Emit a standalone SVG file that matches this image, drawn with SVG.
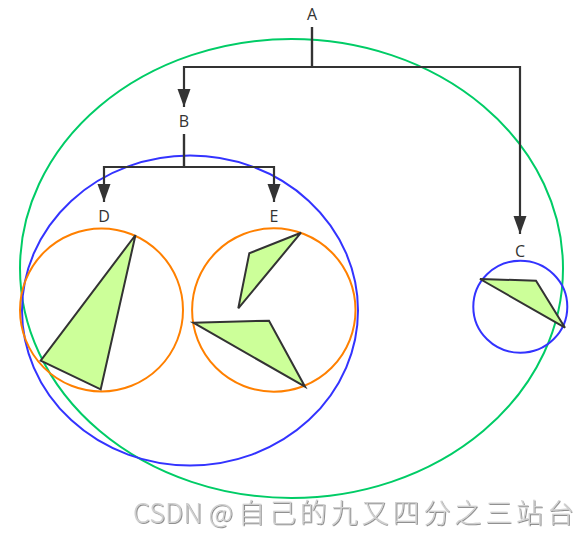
<svg xmlns="http://www.w3.org/2000/svg" width="585" height="535" viewBox="0 0 585 535">
<style>
.lbl{font-family:"Open Sans","Noto Sans",sans-serif;font-size:16px;fill:#333;text-anchor:middle}
.tri{fill:#ccff99;stroke:#333;stroke-width:2;stroke-linejoin:miter}
.edge{fill:none;stroke:#333;stroke-width:2.2}
.wm{font-family:"Noto Sans CJK SC","Liberation Sans",sans-serif;font-size:27px;font-weight:300;fill:#d0d0d0}
</style>
<defs>
<marker id="arr" markerUnits="userSpaceOnUse" markerWidth="19" markerHeight="14" refX="18" refY="6.5" orient="auto">
<path d="M0,0 L18,6.5 L0,13 z" fill="#333"/>
</marker>
<filter id="sh" x="-5%" y="-20%" width="110%" height="140%">
<feDropShadow dx="0.8" dy="0.8" stdDeviation="0.4" flood-color="#666" flood-opacity="0.9"/>
</filter>
</defs>
<rect width="585" height="535" fill="#fff"/>
<g id="A">
<ellipse cx="291.5" cy="268.5" rx="271.5" ry="229.5" fill="none" stroke="#00cc66" stroke-width="2"/>
<text class="lbl" x="312" y="19.5">A</text>
</g>
<g id="B">
<ellipse cx="190" cy="310.5" rx="168" ry="155" fill="none" stroke="#3333ff" stroke-width="2"/>
<text class="lbl" x="184" y="127">B</text>
</g>
<g id="D">
<circle cx="101.5" cy="310" r="81.5" fill="none" stroke="#ff8000" stroke-width="2"/>
<polygon class="tri" points="135.5,235 40.7,360.7 100.7,389.3"/>
<text class="lbl" x="104" y="222">D</text>
</g>
<g id="E">
<circle cx="273.8" cy="310" r="81.7" fill="none" stroke="#ff8000" stroke-width="2"/>
<polygon class="tri" points="301,232.7 249.3,253.3 238.3,308.3"/>
<polygon class="tri" points="193.3,322.7 269,320.7 305,386.7"/>
<text class="lbl" x="274" y="222">E</text>
</g>
<g id="C">
<ellipse cx="520.3" cy="306.7" rx="47" ry="46" fill="none" stroke="#3333ff" stroke-width="2"/>
<polygon class="tri" points="480,279 536,280.7 565,327.7"/>
<text class="lbl" x="520" y="257">C</text>
</g>
<g id="connectors">
<path class="edge" d="M312,27 V67 H184 V107" marker-end="url(#arr)"/>
<path class="edge" d="M312,27 V67 H520 V234" marker-end="url(#arr)"/>
<path class="edge" d="M184,134 V167 H104 V202" marker-end="url(#arr)"/>
<path class="edge" d="M184,134 V167 H274 V202" marker-end="url(#arr)"/>
</g>
<g id="watermark" filter="url(#sh)">
<text class="wm" x="133" y="523" textLength="100" lengthAdjust="spacing">CSDN @</text>
<text class="wm" x="238" y="523" textLength="336" lengthAdjust="spacing">自己的九又四分之三站台</text>
</g>
</svg>
